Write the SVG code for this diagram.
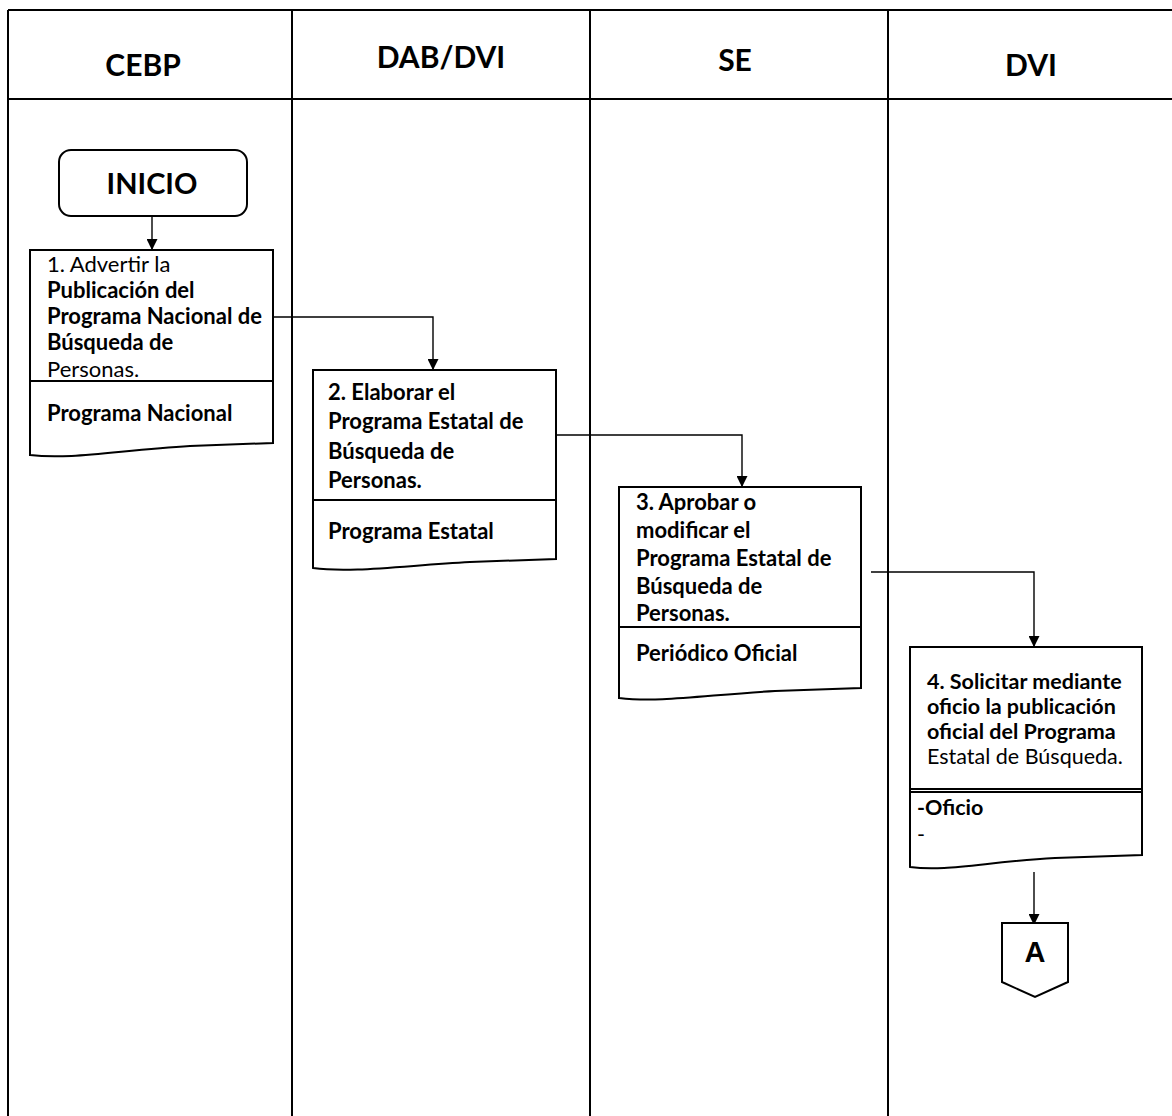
<svg xmlns="http://www.w3.org/2000/svg" width="1172" height="1116" viewBox="0 0 1172 1116">
<style>
.lane{stroke:#000;stroke-width:2;fill:none}
.box{fill:#fff;stroke:#000;stroke-width:2}
.div{stroke:#000;stroke-width:2}
.conn{stroke:#000;stroke-width:1.4;fill:none}
.hd{font-family:Lato,"Liberation Sans",sans-serif;font-weight:700;font-size:30px;text-anchor:middle}
.t{font-family:Lato,"Liberation Sans",sans-serif;font-size:22px;font-weight:700}
.s{font-size:21.5px}
.n{font-weight:400}
</style>
<defs>
<marker id="ah" viewBox="0 0 10 10" refX="9" refY="5" markerWidth="11" markerHeight="11" markerUnits="userSpaceOnUse" orient="auto">
<path d="M0,0 L10,5 L0,10 Z" fill="#000"/>
</marker>
</defs>
<rect width="1172" height="1116" fill="#fff"/>
<g id="lanes">
<line class="lane" x1="8" y1="10" x2="1172" y2="10"/>
<line class="lane" x1="8" y1="99" x2="1172" y2="99" stroke-width="3"/>
<line class="lane" x1="8" y1="10" x2="8" y2="1116"/>
<line class="lane" x1="292" y1="10" x2="292" y2="1116"/>
<line class="lane" x1="292" y1="10" x2="292" y2="190" stroke-width="3"/>
<line class="lane" x1="590" y1="10" x2="590" y2="1116"/>
<line class="lane" x1="888" y1="10" x2="888" y2="1116"/>
<text class="hd" x="143" y="76">CEBP</text>
<text class="hd" x="441" y="68">DAB/DVI</text>
<text class="hd" x="735" y="71">SE</text>
<text class="hd" x="1031" y="76">DVI</text>
</g>
<g id="connectors">
<line class="conn" x1="152" y1="216" x2="152" y2="249" marker-end="url(#ah)"/>
<polyline class="conn" points="273,317 433,317 433,369" marker-end="url(#ah)"/>
<polyline class="conn" points="556,435 742,435 742,486" marker-end="url(#ah)"/>
<polyline class="conn" points="871,572 1034,572 1034,646" marker-end="url(#ah)"/>
<line class="conn" x1="1034" y1="872" x2="1034" y2="924" marker-end="url(#ah)"/>
</g>
<g id="inicio">
<rect class="box" x="59" y="150" width="188" height="66" rx="12" stroke-width="2.5"/>
<text x="152" y="194" text-anchor="middle" font-family="Lato,'Liberation Sans',sans-serif" font-weight="700" font-size="29">INICIO</text>
</g>
<g id="node1">
<path class="box" d="M30,250 H273 V443 L190,446 C120,450 70,460 30,455 Z"/>
<line class="div" x1="30" y1="381" x2="273" y2="381"/>
<text class="t n" x="47" y="272">1.  Advertir la</text>
<text class="t" x="47" y="298">Publicación del</text>
<text class="t" x="47" y="324">Programa Nacional de</text>
<text class="t" x="47" y="350">Búsqueda de</text>
<text class="t n" x="47" y="377">Personas.</text>
<text class="t" x="47" y="421">Programa Nacional</text>
</g>
<g id="node2">
<path class="box" d="M313,370 H556 V559 L470,562 C400,566 350,573 313,568 Z"/>
<line class="div" x1="313" y1="500" x2="556" y2="500"/>
<text class="t" x="328" y="400">2. Elaborar el</text>
<text class="t" x="328" y="429">Programa Estatal de</text>
<text class="t" x="328" y="459">Búsqueda de</text>
<text class="t" x="328" y="488">Personas.</text>
<text class="t" x="328" y="539">Programa Estatal</text>
</g>
<g id="node3">
<path class="box" d="M619,487 H861 V688 L775,691 C705,695 660,703 619,698 Z"/>
<line class="div" x1="619" y1="627" x2="861" y2="627"/>
<text class="t" x="636" y="510">3.  Aprobar o</text>
<text class="t" x="636" y="538">modificar el</text>
<text class="t" x="636" y="566">Programa Estatal de</text>
<text class="t" x="636" y="594">Búsqueda de</text>
<text class="t" x="636" y="621">Personas.</text>
<text class="t" x="636" y="661">Periódico Oficial</text>
</g>
<g id="node4">
<path class="box" d="M910,647 H1142 V855 L1055,858 C985,862 945,872 910,867 Z"/>
<line class="div" x1="910" y1="789" x2="1142" y2="789"/>
<line class="div" x1="910" y1="792" x2="1142" y2="792" stroke-width="1"/>
<text class="t s" x="927" y="689">4. Solicitar mediante</text>
<text class="t s" x="927" y="714">oficio la publicación</text>
<text class="t s" x="927" y="739">oficial del Programa</text>
<text class="t s n" x="927" y="764">Estatal de Búsqueda.</text>
<text class="t s" x="917" y="815">-Oficio</text>
<text class="t s n" x="917" y="842">-</text>
</g>
<g id="connA">
<path class="box" d="M1002,923 H1068 V982 L1035,997 L1002,982 Z"/>
<text x="1035" y="962" text-anchor="middle" font-family="'Liberation Sans',sans-serif" font-weight="700" font-size="29">A</text>
</g>
</svg>
